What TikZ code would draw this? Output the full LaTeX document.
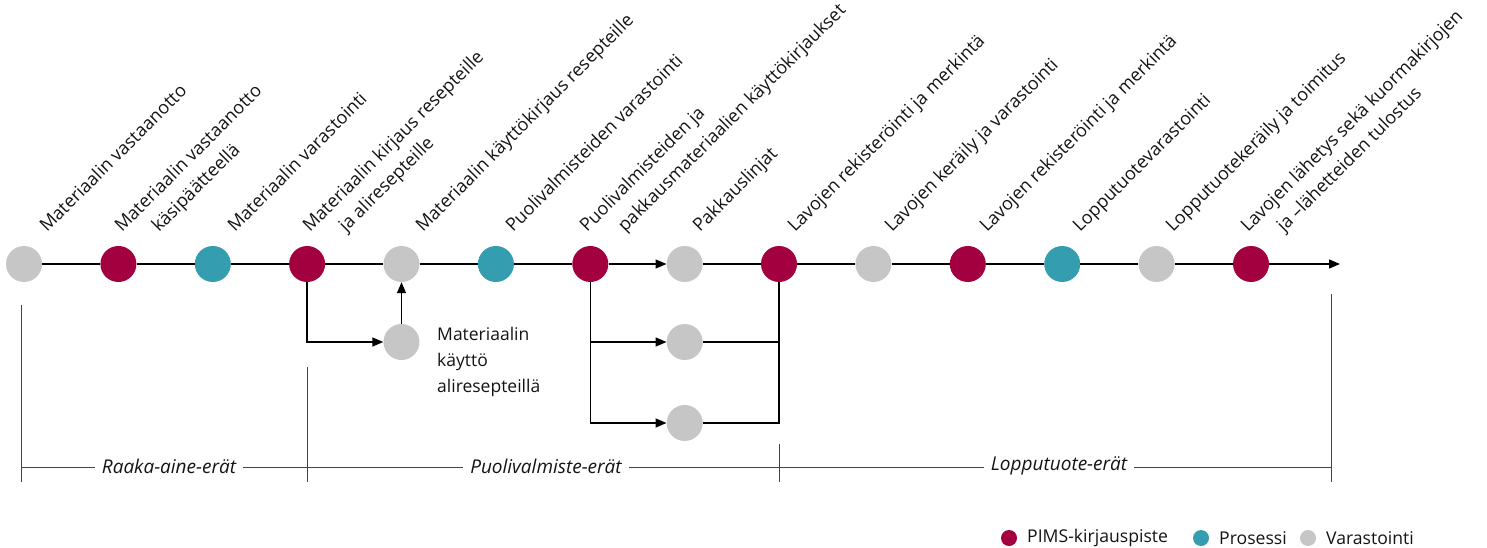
\documentclass[tikz,border=0pt]{standalone}
\usepackage{fontspec}
\setmainfont{Open Sans}
\usetikzlibrary{arrows.meta}
\definecolor{pims}{HTML}{A2003E}
\definecolor{prosessi}{HTML}{349DB0}
\definecolor{varasto}{HTML}{C6C6C6}
\definecolor{bracketgray}{HTML}{444444}
\tikzset{
  dot/.style={circle, minimum size=36pt, inner sep=0pt, draw=none},
  pimsdot/.style={dot, fill=pims},
  prodot/.style={dot, fill=prosessi},
  vardot/.style={dot, fill=varasto},
  mainline/.style={line width=1.4pt, black},
  arr/.style={-{Triangle[length=11pt,width=9pt]}},
  diag/.style={rotate=45, anchor=base west, inner sep=0pt, font=\fontsize{18}{20}\selectfont, text=black!92},
  brline/.style={line width=0.9pt, bracketgray},
  brlabel/.style={fill=white, inner xsep=7pt, inner ysep=2pt, font=\fontsize{19}{20}\selectfont\itshape, text=black!92},
  legdot/.style={circle, minimum size=16pt, inner sep=0pt, draw=none},
  legtext/.style={anchor=west, inner sep=0pt, font=\fontsize{17.6}{20}\selectfont, text=black!92}
}
\begin{document}
\begin{tikzpicture}[x=1pt,y=-1pt]
\useasboundingbox (0,0) rectangle (1487,548);
% main dots
\node[vardot]  (c0)  at (24,264) {};
\node[pimsdot] (c1)  at (118.4,264) {};
\node[prodot]  (c2)  at (212.8,264) {};
\node[pimsdot] (c3)  at (307.1,264) {};
\node[vardot]  (c4)  at (401.5,264) {};
\node[prodot]  (c5)  at (495.9,264) {};
\node[pimsdot] (c6)  at (590.3,264) {};
\node[vardot]  (c7)  at (684.7,264) {};
\node[pimsdot] (c8)  at (779.0,264) {};
\node[vardot]  (c9)  at (873.4,264) {};
\node[pimsdot] (c10) at (967.8,264) {};
\node[prodot]  (c11) at (1062.2,264) {};
\node[vardot]  (c12) at (1156.6,264) {};
\node[pimsdot] (c13) at (1251.0,264) {};
\coordinate (tip) at (1340,264);
% branch dots
\node[vardot] (b1) at (401.5,342) {};
\node[vardot] (p1) at (684.7,342) {};
\node[vardot] (p2) at (684.7,423) {};
% main line
\draw[mainline] (c0) -- (c1);
\draw[mainline] (c1) -- (c2);
\draw[mainline] (c2) -- (c3);
\draw[mainline] (c3) -- (c4);
\draw[mainline] (c4) -- (c5);
\draw[mainline] (c5) -- (c6);
\draw[mainline,arr] (c6) -- (c7);
\draw[mainline] (c7) -- (c8);
\draw[mainline] (c8) -- (c9);
\draw[mainline] (c9) -- (c10);
\draw[mainline] (c10) -- (c11);
\draw[mainline] (c11) -- (c12);
\draw[mainline] (c12) -- (c13);
\draw[mainline,arr] (c13) -- (tip);
% sub-recipe branch
\draw[mainline,arr] (c3.south) |- (b1);
\draw[mainline,arr] (b1) -- (c4);
\node[anchor=west, align=left, inner sep=0pt, font=\fontsize{17.5}{26}\selectfont, text=black!92] (subtxt) at (437,362) {Materiaalin\\käyttö\\aliresepteillä};
% packaging branches
\draw[mainline,arr] (c6.south) |- (p1);
\draw[mainline,arr] (c6.south) |- (p2);
\draw[mainline] (p1) -| (c8.south);
\draw[mainline] (p2) -| (c8.south);
% diagonal labels
\node[diag] (l0)  at (47,233)  {Materiaalin vastaanotto};
\node[diag] (l1a) at (122,233) {Materiaalin vastaanotto};
\node[diag] (l1b) at (159,233) {käsipäätteellä};
\node[diag] (l2)  at (235,233) {Materiaalin varastointi};
\node[diag] (l3a) at (310,233) {Materiaalin kirjaus resepteille};
\node[diag] (l3b) at (346,233) {ja aliresepteille};
\node[diag] (l4)  at (423,233) {Materiaalin käyttökirjaus resepteille};
\node[diag] (l5)  at (513,233) {Puolivalmisteiden varastointi};
\node[diag] (l6a) at (587,233) {Puolivalmisteiden ja};
\node[diag] (l6b) at (625,233) {pakkausmateriaalien käyttökirjaukset};
\node[diag] (l7)  at (700,233) {Pakkauslinjat};
\node[diag] (l8)  at (795,233) {Lavojen rekisteröinti ja merkintä};
\node[diag] (l9)  at (892,233) {Lavojen keräily ja varastointi};
\node[diag] (l10) at (987,233) {Lavojen rekisteröinti ja merkintä};
\node[diag] (l11) at (1080,233) {Lopputuotevarastointi};
\node[diag] (l12) at (1173,233) {Lopputuotekeräily ja toimitus};
\node[diag] (l13a) at (1248,233) {Lavojen lähetys sekä kuormakirjojen};
\node[diag] (l13b) at (1284,233) {ja –lähetteiden tulostus};
% brackets
\coordinate (v0t) at (21,305);   \coordinate (v0b) at (21,482);
\coordinate (v1t) at (307,367);  \coordinate (v1b) at (307,482);
\coordinate (v2t) at (779,444);  \coordinate (v2b) at (779,482);
\coordinate (v3t) at (1331,294); \coordinate (v3b) at (1331,482);
\coordinate (hl) at (21,467);    \coordinate (hr) at (1331,467);
\draw[brline] (v0t) -- (v0b);
\draw[brline] (v1t) -- (v1b);
\draw[brline] (v2t) -- (v2b);
\draw[brline] (v3t) -- (v3b);
\draw[brline] (hl) -- (hr);
\node[brlabel] (e1) at (169,466) {Raaka-aine-erät};
\node[brlabel] (e2) at (546,466) {Puolivalmiste-erät};
\node[brlabel] (e3) at (1059,466) {Lopputuote-erät};
% legend
\node[legdot, fill=pims]     (g1) at (1009,538) {};
\node[legtext] (g1t) at (1027,538) {PIMS-kirjauspiste};
\node[legdot, fill=prosessi] (g2) at (1201,538) {};
\node[legtext] (g2t) at (1219,538) {Prosessi};
\node[legdot, fill=varasto]  (g3) at (1308,538) {};
\node[legtext] (g3t) at (1326,538) {Varastointi};
\end{tikzpicture}
\end{document}
